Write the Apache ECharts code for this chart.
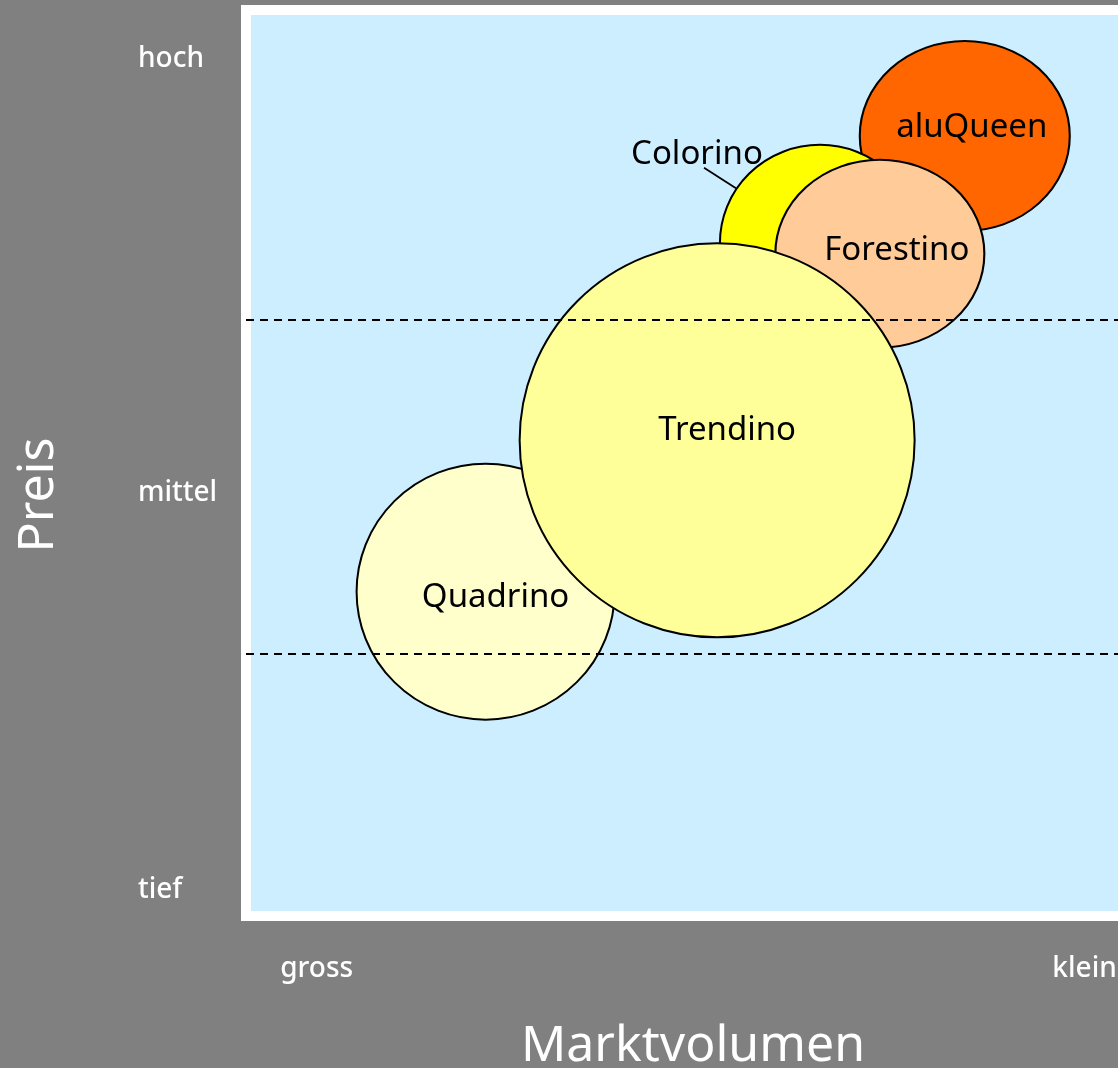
<!DOCTYPE html>
<html>
<head>
<meta charset="utf-8">
<script src="https://cdn.jsdelivr.net/npm/echarts@6/dist/echarts.min.js"></script>
<style>
  html, body { margin: 0; padding: 0; background: #808080; }
  #chart { width: 1118px; height: 1068px; }
</style>
</head>
<body>
<div id="chart"></div>
<script>
/* Portfolio bubbles: Marktvolumen (x) vs Preis (y), 0..100 scales */
const names   = ["aluQueen", "Colorino", "Forestino", "Quadrino", "Trendino"];
const xValues = [80.4, 64.2, 70.9, 26.8, 52.7];
const yValues = [86.1, 74.3, 73.1, 35.8, 52.5];
const sizes   = [[210, 190], [200, 196], [209, 188], [258, 256], [395, 394]];
const colors  = ["#ff6600", "#ffff00", "#ffcc99", "#ffffcc", "#ffff99"];

const priceTicks  = [2.9, 46.7, 94.6];
const priceLabels = ["tief", "mittel", "hoch"];
const volTicks    = [7.9, 93.8];
const volLabels   = ["gross", "klein"];
const bandLines   = [28.9, 65.8];

const FONT = "'Noto Sans', 'Open Sans', sans-serif";

// label nudges (px), Colorino sits outside with a leader
const labelShift = {
  aluQueen: [7, -8], Colorino: [-123, -88], Forestino: [17, -3],
  Quadrino: [10, 6], Trendino: [10, -10]
};

function tickName(ticks, labels) {
  return v => {
    const i = ticks.findIndex(t => Math.abs(t - v) < 1e-6);
    return i >= 0 ? labels[i] : "";
  };
}

const chart = echarts.init(document.getElementById("chart"));

const bubbleData = names.map((n, i) => ({
  name: n,
  value: [xValues[i], yValues[i]],
  symbolSize: sizes[i],
  itemStyle: { color: colors[i] }
}));

chart.setOption({
  backgroundColor: "#808080",
  animation: false,
  // plot area runs past the right edge of the picture
  grid: {
    left: 246, top: 10, width: 894, height: 906,
    outerBoundsMode: "none",
    show: true,
    backgroundColor: "#cceeff",
    borderColor: "#ffffff",
    borderWidth: 10
  },
  xAxis: {
    type: "value", min: 0, max: 100,
    name: "Marktvolumen",
    nameLocation: "middle",
    nameGap: 106,
    nameTextStyle: { color: "#fff", fontSize: 50, fontFamily: FONT },
    axisLine: { show: false },
    axisTick: { show: false },
    splitLine: { show: false },
    axisLabel: {
      customValues: volTicks,
      formatter: tickName(volTicks, volLabels),
      color: "#fff", fontSize: 28, fontFamily: FONT, fontWeight: 500,
      margin: 39
    }
  },
  yAxis: {
    type: "value", min: 0, max: 100,
    name: "Preis",
    nameLocation: "middle",
    nameGap: 182,
    nameRotate: 90,
    nameTextStyle: { color: "#fff", fontSize: 50, fontFamily: FONT, padding: [0, 64, 0, 0] },
    axisLine: { show: false },
    axisTick: { show: false },
    splitLine: { show: false },
    axisLabel: {
      customValues: priceTicks,
      formatter: tickName(priceTicks, priceLabels),
      color: "#fff", fontSize: 28, fontFamily: FONT, fontWeight: 500,
      align: "left",
      margin: 108
    }
  },
  series: [
    {
      // dashed price bands, kept below the bubbles
      type: "scatter",
      z: 1,
      data: [],
      markLine: {
        silent: true,
        symbol: "none",
        label: { show: false },
        lineStyle: { color: "#000", width: 2, type: [8, 6], opacity: 1 },
        data: bandLines.map(v => ({ yAxis: v }))
      }
    },
    {
      type: "scatter",
      z: 2,
      data: bubbleData,
      itemStyle: { borderColor: "#000", borderWidth: 2, opacity: 1 },
      label: {
        show: true,
        position: "inside",
        formatter: "{b}",
        color: "#000",
        fontSize: 33,
        fontFamily: FONT
      },
      labelLayout: p => {
        const s = labelShift[names[p.dataIndex]] || [0, 0];
        return { dx: s[0], dy: s[1] };
      },
      emphasis: { disabled: true }
    }
  ]
});

// Colorino leader: short radial stroke out from the bubble's edge
const ci = names.indexOf("Colorino");
const c = chart.convertToPixel({ gridIndex: 0 }, [xValues[ci], yValues[ci]]);
const r = sizes[ci][0] / 2;
const dir = [-0.84, -0.545];
chart.setOption({
  graphic: [{
    type: "line",
    z: 100,
    shape: {
      x1: c[0] + dir[0] * r, y1: c[1] + dir[1] * r,
      x2: c[0] + dir[0] * (r + 38), y2: c[1] + dir[1] * (r + 38)
    },
    style: { stroke: "#000", lineWidth: 1.8 }
  }]
});
</script>
</body>
</html>
